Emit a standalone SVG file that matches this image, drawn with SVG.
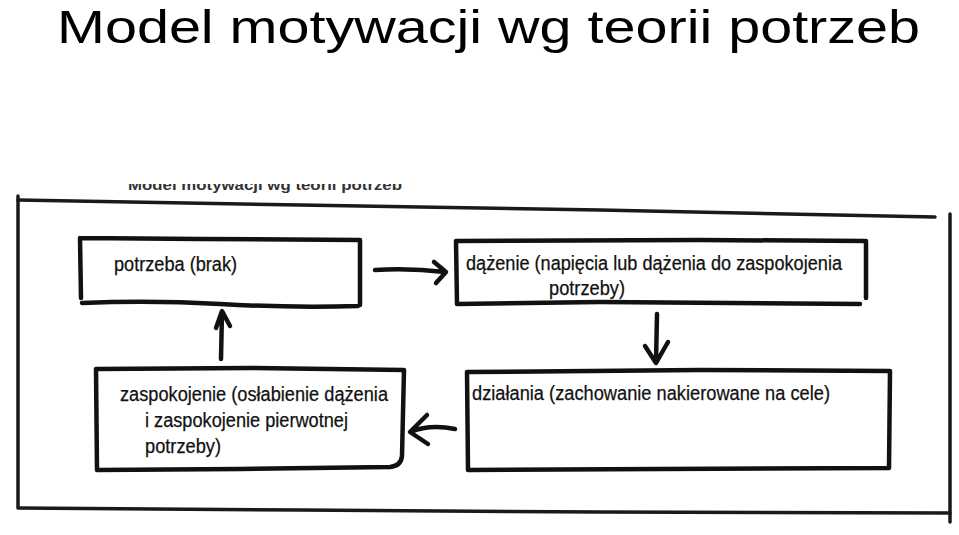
<svg xmlns="http://www.w3.org/2000/svg" width="959" height="535" viewBox="0 0 959 535">
<style>
.ink{fill:none;stroke:#111;stroke-width:4.5;stroke-linecap:round;stroke-linejoin:round}
.frame{fill:none;stroke:#1a1a1a;stroke-width:3.5;stroke-linecap:round}
.lbl{font-family:"Liberation Sans Narrow","Liberation Sans",Arial,sans-serif;font-size:20px;fill:#111;stroke:#111;stroke-width:0.25}
.title{font-family:"Liberation Sans",Arial,sans-serif;font-size:47px;fill:#000}
</style>
<defs>
<clipPath id="cut"><rect x="0" y="184" width="959" height="20"/></clipPath>
</defs>
<rect width="959" height="535" fill="#fff"/>
<text class="title" x="57" y="43" textLength="863" lengthAdjust="spacingAndGlyphs">Model motywacji wg teorii potrzeb</text>
<g clip-path="url(#cut)">
<text x="128" y="190" font-family="Liberation Sans,sans-serif" font-weight="bold" font-size="15" fill="#333" textLength="274" lengthAdjust="spacingAndGlyphs">Model motywacji wg teorii potrzeb</text>
</g>
<g id="frame">
<path class="frame" d="M18 200 L300 205 L600 210 L935 217"/>
<path class="frame" d="M18 196 L18 507"/>
<path class="frame" d="M18 508 L300 510 L600 512 L950 513"/>
<path class="frame" d="M950 214 L950 522"/>
</g>
<g id="node-potrzeba">
<path class="ink" d="M80 238 L200 239 L360 240 L360 305 M80 238 L81 298 M82 303 Q150 300 220 304 T358 306"/>
<text class="lbl" x="114" y="271" textLength="123" lengthAdjust="spacingAndGlyphs">potrzeba (brak)</text>
</g>
<g id="node-dazenie">
<path class="ink" d="M456 241 L700 240 L866 241 L866 298 M456 241 L457 304 L600 302 L860 304"/>
<text class="lbl" x="466" y="270" textLength="376" lengthAdjust="spacingAndGlyphs">dążenie (napięcia lub dążenia do zaspokojenia</text>
<text class="lbl" x="549" y="295" textLength="76" lengthAdjust="spacingAndGlyphs">potrzeby)</text>
</g>
<g id="node-dzialania">
<path class="ink" d="M467 372 L700 370 L890 371 L889 468 L468 470 L467 372"/>
<text class="lbl" x="472" y="400" textLength="358" lengthAdjust="spacingAndGlyphs">działania (zachowanie nakierowane na cele)</text>
</g>
<g id="node-zaspokojenie">
<path class="ink" d="M96 369 L250 368 L404 370 L402 456 Q401 466 390 467 L240 469 L97 470 L96 369"/>
<text class="lbl" x="120" y="401" textLength="268" lengthAdjust="spacingAndGlyphs">zaspokojenie (osłabienie dążenia</text>
<text class="lbl" x="145" y="427" textLength="203" lengthAdjust="spacingAndGlyphs">i zaspokojenie pierwotnej</text>
<text class="lbl" x="145" y="453" textLength="76" lengthAdjust="spacingAndGlyphs">potrzeby)</text>
</g>
<g id="connectors">
<path class="ink" d="M375 270 Q410 268 445 272 M434 262 L446 272 L436 283"/>
<path class="ink" d="M657 314 L656 362 M645 346 L656 363 L668 342"/>
<path class="ink" d="M455 429 Q430 424 410 432 M427 415 L410 432 L428 444"/>
<path class="ink" d="M221 359 L222 312 M216 328 L222 311 L230 326"/>
</g>
</svg>
